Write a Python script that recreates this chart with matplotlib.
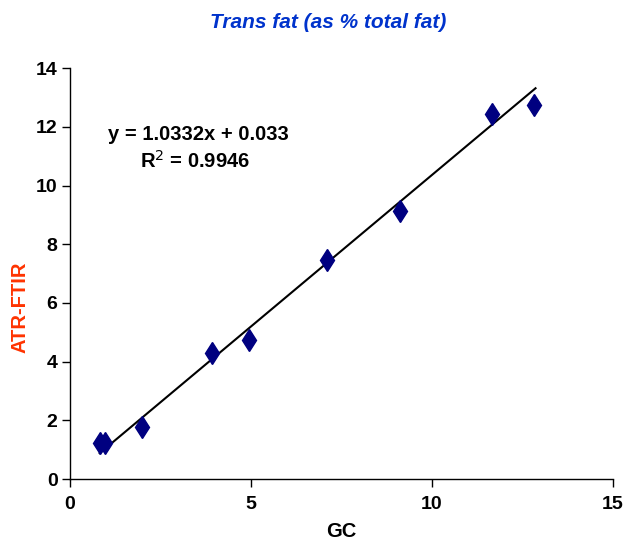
import matplotlib
matplotlib.use("Agg")
import matplotlib.pyplot as plt
import numpy as np

plt.rcParams["font.family"] = ["Liberation Sans", "DejaVu Sans"]

# GC vs ATR-FTIR trans fat values
gc = [0.82, 0.97, 2.0, 3.92, 4.95, 7.1, 9.11, 11.65, 12.81]
atr = [1.22, 1.22, 1.77, 4.28, 4.75, 7.45, 9.15, 12.44, 12.76]
slope = 1.0332
intercept = 0.033

fig = plt.figure(figsize=(6.25, 5.43), dpi=100)
ax = fig.add_axes([70 / 625, 64 / 543, 543 / 625, 410.7 / 543])

xfit = np.array([min(gc), max(gc) + 0.05])
ax.plot(xfit, slope * xfit + intercept, color="black", lw=1.5, zorder=2)
ax.plot(gc, atr, linestyle="none", marker="d", markersize=11.5,
        color="#000080", zorder=3)

ax.set_xlim(0, 15)
ax.set_ylim(0, 14)
ax.set_xticks([0, 5, 10, 15])
ax.set_yticks(range(0, 15, 2))
for s in ["top", "right"]:
    ax.spines[s].set_visible(False)
for s in ["left", "bottom"]:
    ax.spines[s].set_linewidth(1.0)
ax.tick_params(direction="out", length=6, width=1.0, labelsize=14)
ax.tick_params(axis="x", pad=6)
ax.tick_params(axis="y", pad=3)
for lab in ax.get_xticklabels() + ax.get_yticklabels():
    lab.set_fontweight("bold")

ax.set_xlabel("GC", fontsize=14.5, fontweight="bold", labelpad=7)
fig.text(20 / 625, 1 - 307 / 543, "ATR-FTIR", rotation=90, ha="center", va="center",
         fontsize=14.5, fontweight="bold", color="#FF3300")
fig.text(328 / 625, 1 - 22 / 543, "Trans fat (as % total fat)", ha="center", va="center",
         fontsize=15, fontweight="bold", style="italic", color="#0033CC")

ax.text(3.55, 11.75, "y = 1.0332x + 0.033", ha="center", va="center",
        fontsize=14.5, fontweight="bold")
ax.text(3.45, 10.85, "R$^2$ = 0.9946", ha="center", va="center",
        fontsize=14.5, fontweight="bold")

fig.savefig("out.png", dpi=100)
